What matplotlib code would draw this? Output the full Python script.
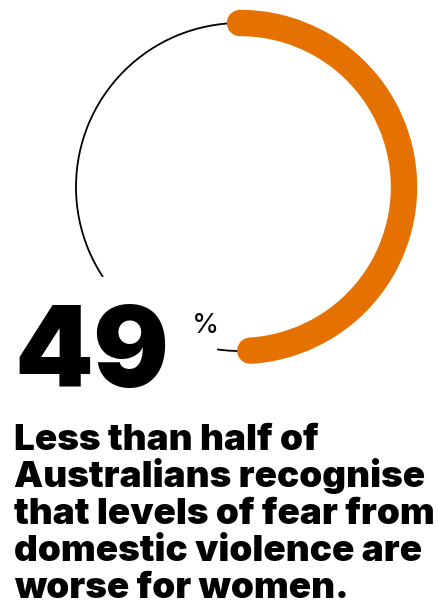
import matplotlib
matplotlib.use('Agg')
from matplotlib import pyplot as plt
from matplotlib.patches import Arc, Rectangle

# Data
share_pct = 49
caption_lines = ['Less than half of',
                 'Australians recognise',
                 'that levels of fear from',
                 'domestic violence are',
                 'worse for women.']

# Style
ORANGE = '#E57200'
W, H = 439, 602
CX, CY, R = 240, H - 187, 164
FONT = 'Inter'

fig = plt.figure(figsize=(W / 100, H / 100), dpi=100)
ax = fig.add_axes([0, 0, 1, 1])
ax.set_xlim(0, W)
ax.set_ylim(0, H)
ax.set_aspect('equal')
ax.axis('off')

# Background ring
ax.add_patch(Arc((CX, CY), 2 * R, 2 * R, theta1=0, theta2=360,
                 lw=1.3, color='black', zorder=1))
# White panel behind the number
ax.add_patch(Rectangle((0, H - 400), 216, 400 - 277, color='white', zorder=2))

# Value arc, clockwise from the top
sweep = share_pct / 100 * 360
ax.add_patch(Arc((CX, CY), 2 * R, 2 * R, theta1=90 - sweep, theta2=90,
                 lw=19, color=ORANGE, capstyle='round', zorder=3))

ax.text(14, H - 387, str(share_pct), fontsize=81, fontweight='black',
        family=FONT, ha='left', va='baseline', zorder=4)
ax.text(192, H - 333, '%', fontsize=20, family=FONT, ha='left',
        va='baseline', zorder=4)

for i, line in enumerate(caption_lines):
    ax.text(14, H - 450 - 37 * i, line, fontsize=26.5, fontweight='black',
            family=FONT, ha='left', va='baseline', zorder=4)

fig.savefig('out.png', dpi=100)
